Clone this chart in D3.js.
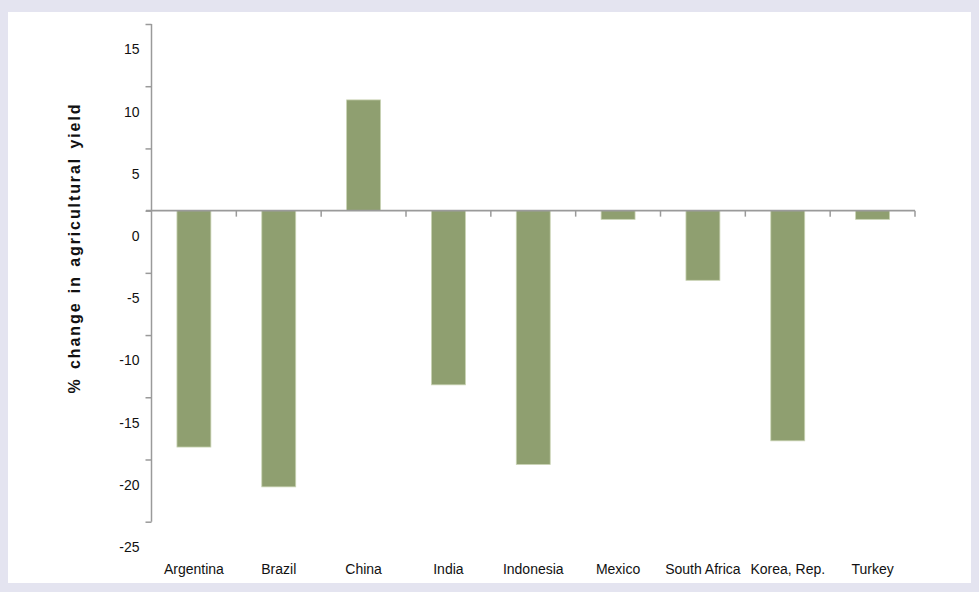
<!DOCTYPE html>
<html>
<head>
<meta charset="utf-8">
<script src="https://cdn.jsdelivr.net/npm/d3@7"></script>
<style>
  html, body { margin: 0; padding: 0; background: #e4e4f0; }
  svg { display: block; }
</style>
</head>
<body>
<svg id="chart" width="979" height="592"></svg>
<script>
// Agricultural yield change by country (%)
const countries = ["Argentina", "Brazil", "China", "India", "Indonesia", "Mexico", "South Africa", "Korea, Rep.", "Turkey"];
const yieldChange = [-19.0, -22.2, 8.9, -14.0, -20.4, -0.7, -5.6, -18.5, -0.7];
const yTicks = [15, 10, 5, 0, -5, -10, -15, -20, -25];
const yTitle = "% change in agricultural yield";

const svg = d3.select("#chart");

// white panel inside the lavender frame
svg.append("rect").attr("x", 8).attr("y", 12).attr("width", 963).attr("height", 571).attr("fill", "#ffffff");

const y = d3.scaleLinear().domain([-25, 15]).range([521.7, 24]);
const x = d3.scaleBand().domain(countries).range([151.5, 915]).paddingInner(0.6).paddingOuter(0.3);

const data = countries.map((c, i) => ({ c, v: yieldChange[i] }));

// bars
svg.append("g").selectAll("rect").data(data).join("rect")
  .attr("x", d => x(d.c))
  .attr("width", x.bandwidth())
  .attr("y", d => y(Math.max(0, d.v)))
  .attr("height", d => Math.abs(y(d.v) - y(0)))
  .attr("fill", "#8f9f70")
  .attr("stroke", "#c9d3b3")
  .attr("stroke-width", 0.8);

const axisColor = "#9a9a9a";

// y axis: tick labels sit a little below their tick marks
const labelShift = y(-2) - y(0);
const yAxis = svg.append("g")
  .attr("transform", "translate(151.5,0)")
  .call(d3.axisLeft(y).tickValues(yTicks).tickSize(6).tickPadding(6).tickFormat(d => String(d)));
yAxis.select(".domain").attr("stroke", axisColor).attr("stroke-width", 1.5).attr("d", `M0,${y(15)}V${y(-25)}`);
yAxis.selectAll(".tick line").attr("stroke", axisColor).attr("stroke-width", 1.5);
yAxis.selectAll(".tick text")
  .attr("dy", null)
  .attr("y", labelShift)
  .attr("dominant-baseline", "central")
  .attr("font-family", "'Liberation Sans', Arial, sans-serif")
  .attr("font-size", 14)
  .attr("fill", "#111");

// zero line with category boundary ticks
const step = x.step();
const boundaries = countries.slice(1).map(c => x(c) - step * x.paddingOuter()).concat([x.range()[1]]);
const xg = svg.append("g");
xg.append("line")
  .attr("x1", 146).attr("x2", x.range()[1])
  .attr("y1", y(0)).attr("y2", y(0))
  .attr("stroke", axisColor).attr("stroke-width", 1.8);
xg.selectAll("line.tick").data(boundaries).join("line")
  .attr("class", "tick")
  .attr("x1", d => d).attr("x2", d => d)
  .attr("y1", y(0)).attr("y2", y(0) + 6)
  .attr("stroke", axisColor).attr("stroke-width", 1.5);

// category labels along the bottom
svg.append("g").selectAll("text").data(countries).join("text")
  .attr("x", d => x(d) + x.bandwidth() / 2)
  .attr("y", 574)
  .attr("text-anchor", "middle")
  .attr("font-family", "'Liberation Sans', Arial, sans-serif")
  .attr("font-size", 14)
  .attr("fill", "#111")
  .text(d => d);

// axis title
svg.append("text")
  .attr("transform", "translate(80,248) rotate(-90)")
  .attr("text-anchor", "middle")
  .attr("font-family", "'Liberation Sans', Arial, sans-serif")
  .attr("font-weight", "bold")
  .attr("font-size", 16)
  .attr("letter-spacing", 1.9)
  .attr("word-spacing", 2)
  .attr("fill", "#111")
  .text(yTitle);
</script>
</body>
</html>
